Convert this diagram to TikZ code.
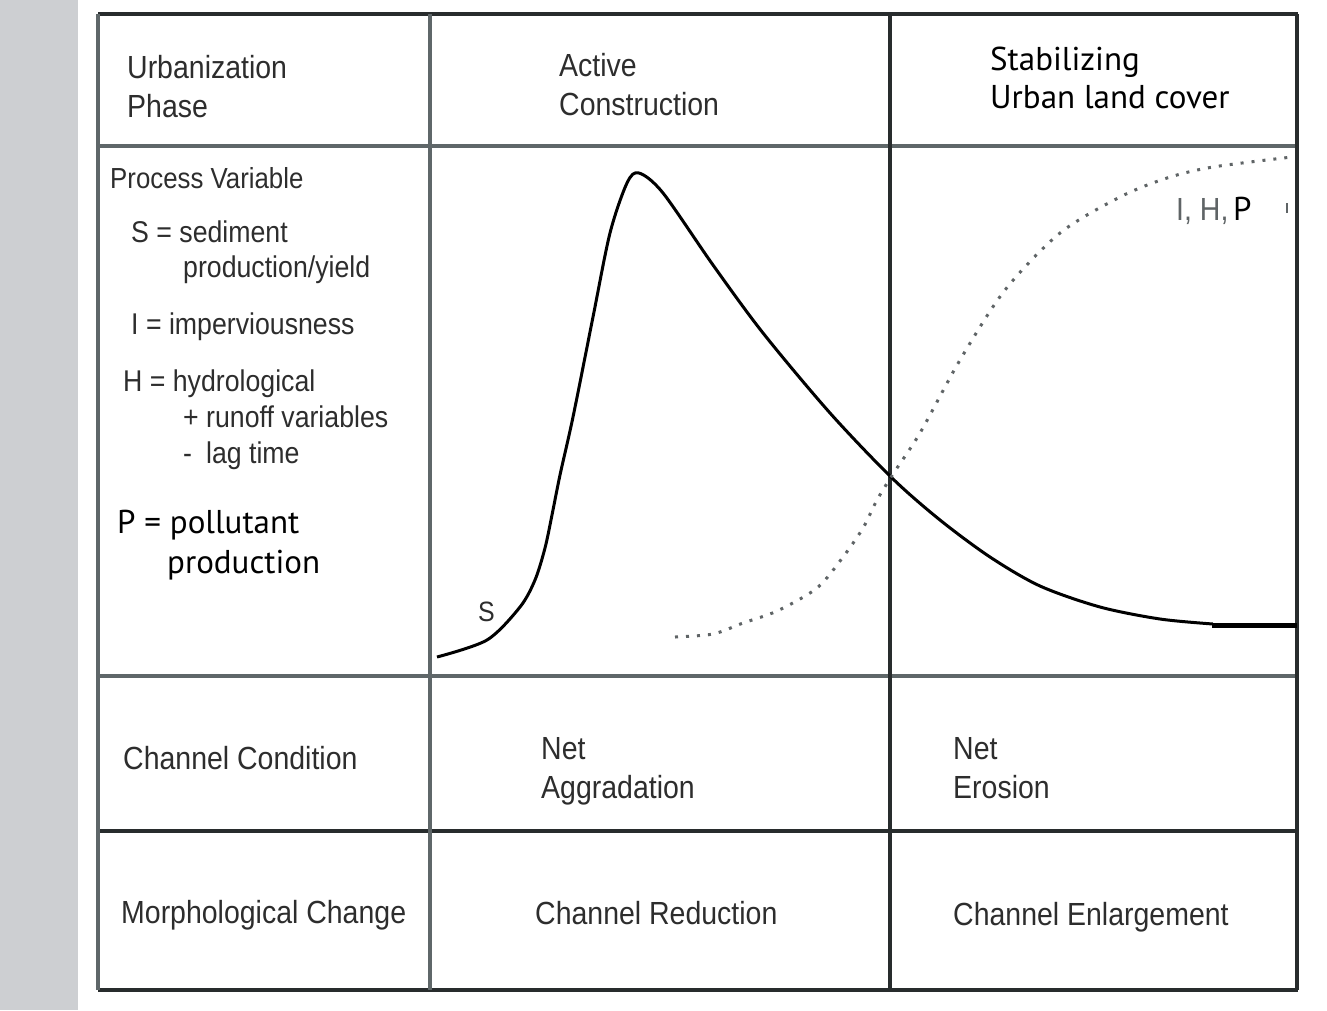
\documentclass[tikz,border=0pt]{standalone}
\usepackage{fontspec}
\newfontfamily\arialfont[FakeStretch=0.89]{Liberation Sans}
\newfontfamily\myriadfont{PT Sans}
\definecolor{stripgray}{RGB}{205,207,210}
\definecolor{rulegray}{RGB}{95,103,105}
\definecolor{ruledark}{RGB}{40,44,45}
\definecolor{txtgray}{RGB}{45,45,45}
\definecolor{dotgray}{RGB}{95,100,102}
\begin{document}
\begin{tikzpicture}[x=1pt,y=-1pt,
  cell/.style={anchor=base west,inner sep=0pt,align=left,text=txtgray,font=\arialfont\fontsize{32}{39}\selectfont},
  listtext/.style={cell,font=\arialfont\fontsize{30}{36}\selectfont},
  newtext/.style={anchor=base west,inner sep=0pt,align=left,text=black,font=\myriadfont\fontsize{33}{38}\selectfont},
  softrule/.style={rulegray,line width=4pt},
  hardrule/.style={ruledark,line width=3.5pt}]
\useasboundingbox (0,0) rectangle (1327,1010);
\fill[stripgray] (0,0) rectangle (78,1010);
% table rules
\draw[hardrule] (98,14) -- (1298,14);
\draw[softrule] (98,146) -- (1298,146);
\draw[softrule] (98,676) -- (1298,676);
\draw[hardrule] (98,831) -- (1298,831);
\draw[hardrule] (98,990) -- (1298,990);
\draw[softrule] (98,14) -- (98,990);
\draw[softrule] (430,14) -- (430,990);
\draw[hardrule] (890,14) -- (890,990);
\draw[hardrule] (1297,14) -- (1297,990);
% header row (multi-line nodes sit on their last baseline)
\node[cell] (phase) at (127,117) {Urbanization\\Phase};
\node[cell] (active) at (559,115) {Active\\Construction};
\node[newtext] (stable) at (990,108) {Stabilizing\\Urban land cover};
% process variables
\node[listtext,font=\arialfont\fontsize{29}{36}\selectfont] (procvar) at (110,188) {Process Variable};
\node[listtext,font=\arialfont\fontsize{30}{35}\selectfont] (sedvar) at (131,277) {S = sediment\\\hspace*{52pt}production/yield};
\node[listtext] (impvar) at (131,334) {I = imperviousness};
\node[listtext] (hydvar) at (123,463) {H = hydrological\\\hspace*{60pt}+ runoff variables\\\hspace*{60pt}-\hspace*{14pt}lag time};
\node[newtext,font=\myriadfont\fontsize{33}{40}\selectfont] (pollvar) at (117,573) {P = pollutant\\\hspace*{50pt}production};
% curves
\draw[black,line width=3pt,line join=round] plot[smooth,tension=0.5] coordinates {(437,657) (487,640) (520,607) (535,580) (545,548) (552,515) (560,475) (573,417) (593,317) (610,233) (627,183) (639,173) (663,193) (713,265) (763,333) (830,413) (892,478) (940,520) (990,557) (1040,586) (1100,607) (1160,619) (1213,624)};
\draw[black,line width=5pt] (1212,625) -- (1297,625);
\draw[dotgray,line width=3pt,dash pattern=on 3pt off 8pt] plot[smooth,tension=0.5] coordinates {(675,637) (713,634) (743,623) (777,611) (817,588) (843,557) (863,528) (877,500) (893,474) (920,433) (960,360) (1005,290) (1060,233) (1120,197) (1167,178) (1213,167) (1292,157)};
\node[cell,font=\arialfont\fontsize{28}{34}\selectfont] (slabel) at (478,621) {S};
\node[cell,text=dotgray] (ihp) at (1176,220) {I, H,};
\node[newtext] (ihpp) at (1233,220) {P};
\draw[dotgray,line width=1.5pt] (1287,203) -- (1287,213);
% channel rows
\node[cell] (condition) at (123,769) {Channel Condition};
\node[cell] (aggrad) at (541,798) {Net\\Aggradation};
\node[cell] (erosion) at (953,798) {Net\\Erosion};
\node[cell] (morph) at (121,923) {Morphological Change};
\node[cell] (reduction) at (535,924) {Channel Reduction};
\node[cell] (enlarge) at (953,925) {Channel Enlargement};
\end{tikzpicture}
\end{document}
